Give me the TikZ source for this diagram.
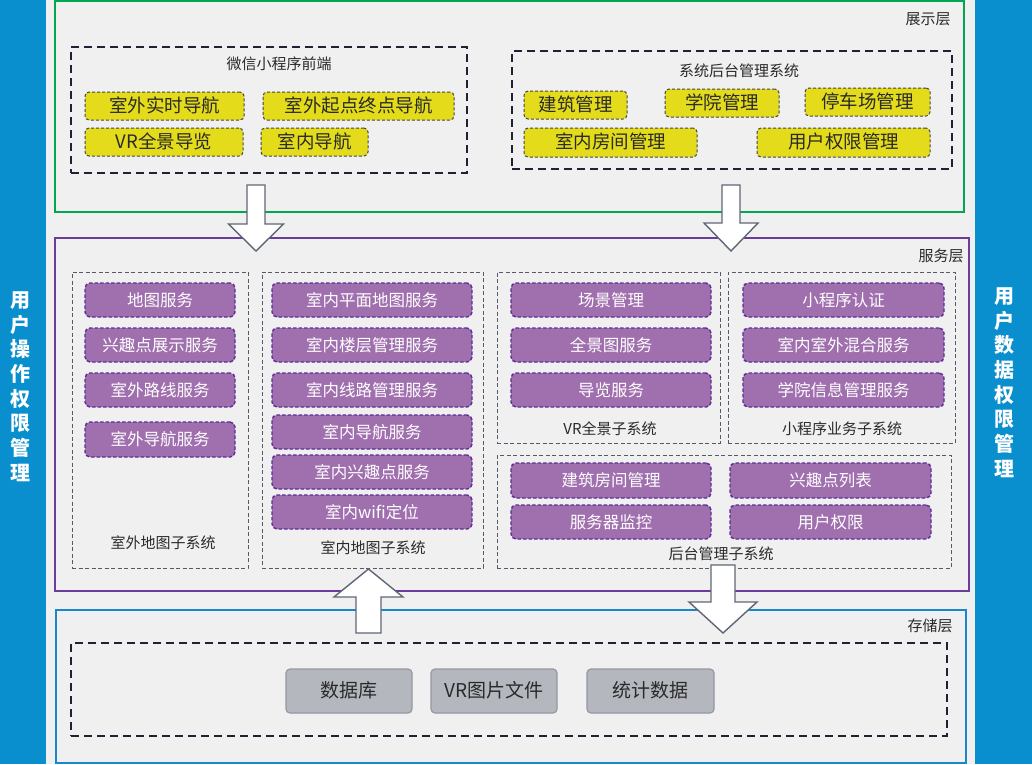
\documentclass[tikz,border=0pt]{standalone}
\usepackage{fontspec}
\setmainfont{Noto Sans CJK SC}
\usetikzlibrary{fit}
\definecolor{bg}{HTML}{F0F0F0}
\definecolor{sidebar}{HTML}{0A8FCE}
\definecolor{greenb}{HTML}{00A651}
\definecolor{purpb}{HTML}{6A3C9C}
\definecolor{blueb}{HTML}{1B87CB}
\definecolor{yellowf}{HTML}{E4DC1B}
\definecolor{purpf}{HTML}{A06FAE}
\definecolor{purpd}{HTML}{5B2D96}
\definecolor{grayf}{HTML}{B5B7BF}
\definecolor{grayd}{HTML}{9597A1}
\definecolor{navy}{HTML}{1E2235}
\definecolor{txt}{HTML}{2A2A2A}
\definecolor{arrowd}{HTML}{5F6675}
% box node from corner (x1,y1) to (x2,y2)
\newcommand\bx[6]{\node[#1, minimum width={#4pt-#2pt}, minimum height={#5pt-#3pt}] (#6) at ({(#2+#4)/2},{(#3+#5)/2})}
\begin{document}
\begin{tikzpicture}[x=1pt,y=-1pt,
  every node/.style={inner sep=0pt, outer sep=0pt},
  cjk/.style={text height=1.26em, text depth=0pt},
  ybox/.style={cjk, draw=navy!85, dash pattern=on 3pt off 2pt, line width=1pt, fill=yellowf, rounded corners=4pt, font=\fontsize{18.5}{20}\selectfont, text=txt},
  pbox/.style={cjk, draw=purpd, dash pattern=on 3.5pt off 2pt, line width=1.4pt, fill=purpf, rounded corners=5pt, text=white, font=\fontsize{16.5}{18}\selectfont},
  gbox/.style={cjk, draw=grayd, line width=1.2pt, fill=grayf, rounded corners=4pt, font=\fontsize{19}{20}\selectfont, text=txt},
  bigdash/.style={draw=navy, line width=2.4pt, dash pattern=on 8pt off 5pt},
  subbox/.style={draw=navy!75, line width=1pt, dash pattern=on 4pt off 2.5pt},
  titletext/.style={cjk, font=\fontsize{15}{16}\selectfont, text=txt},
  sidetext/.style={font=\fontsize{20}{24.7}\selectfont\bfseries, text=white, align=center},
  blockarrow/.style={draw=arrowd, line width=1.4pt, fill=white, line join=miter}
]
\useasboundingbox (0,0) rectangle (1032,764);
\fill[bg] (0,0) rectangle (1032,764);
% side bars
\node[fill=sidebar, fit={(0,0) (46,764)}] (leftbar) {};
\node[fill=sidebar, fit={(975,0) (1032,764)}] (rightbar) {};
\node[sidetext] (lefttxt) at (20,386.5) {用\\户\\操\\作\\权\\限\\管\\理};
\node[sidetext] (righttxt) at (1004,382.5) {用\\户\\数\\据\\权\\限\\管\\理};
% layers
\node[draw=greenb, line width=2.5pt, fit={(55,1) (964,212)}] (pres) {};
\node[draw=purpb, line width=2.5pt, fit={(55,238) (969,591)}] (serv) {};
\node[draw=blueb, line width=2pt, fit={(56,610) (966,763)}] (stor) {};
\node[titletext] (preslab) at (928,18) {展示层};
\node[titletext] (servlab) at (941,255) {服务层};
\node[titletext] (storlab) at (930,625) {存储层};
% presentation layer
\node[bigdash, fit={(71,47) (467,173)}] (fe) {};
\node[titletext] (fetitle) at (279,63) {微信小程序前端};
\bx{ybox}{85}{92}{244}{120}{y1} {室外实时导航};
\bx{ybox}{263}{92}{454}{120}{y2} {室外起点终点导航};
\bx{ybox}{85}{128}{243}{156}{y3} {VR全景导览};
\bx{ybox}{261}{128}{368}{156}{y4} {室内导航};
\node[bigdash, fit={(512,51) (952,169)}] (adm) {};
\node[titletext] (admtitle) at (739,70) {系统后台管理系统};
\bx{ybox}{524}{91}{627}{119}{b1} {建筑管理};
\bx{ybox}{665}{89}{779}{117}{b2} {学院管理};
\bx{ybox}{805}{88}{930}{116}{b3} {停车场管理};
\bx{ybox}{524}{128}{697}{157}{b4} {室内房间管理};
\bx{ybox}{757}{128}{930}{157}{b5} {用户权限管理};
% service layer subsystems
\node[subbox, fit={(72,272) (248,568)}] (outsub) {};
\node[titletext] (outtitle) at (163,542) {室外地图子系统};
\bx{pbox}{85}{283}{235}{317}{o1} {地图服务};
\bx{pbox}{85}{328}{235}{362}{o2} {兴趣点展示服务};
\bx{pbox}{85}{373}{235}{407}{o3} {室外路线服务};
\bx{pbox}{85}{422}{235}{457}{o4} {室外导航服务};
\node[subbox, fit={(262,272) (483,568)}] (insub) {};
\node[titletext] (intitle) at (373,547) {室内地图子系统};
\bx{pbox}{272}{283}{472}{317}{i1} {室内平面地图服务};
\bx{pbox}{272}{328}{472}{362}{i2} {室内楼层管理服务};
\bx{pbox}{272}{373}{472}{407}{i3} {室内线路管理服务};
\bx{pbox}{272}{415}{472}{449}{i4} {室内导航服务};
\bx{pbox}{272}{455}{472}{489}{i5} {室内兴趣点服务};
\bx{pbox}{272}{495}{472}{529}{i6} {室内wifi定位};
\node[subbox, fit={(497,272) (720,443)}] (vrsub) {};
\node[titletext] (vrtitle) at (610,428) {VR全景子系统};
\bx{pbox}{511}{283}{711}{317}{v1} {场景管理};
\bx{pbox}{511}{328}{711}{362}{v2} {全景图服务};
\bx{pbox}{511}{373}{711}{407}{v3} {导览服务};
\node[subbox, fit={(728,272) (955,443)}] (minisub) {};
\node[titletext] (minititle) at (842,428) {小程序业务子系统};
\bx{pbox}{743}{283}{944}{317}{m1} {小程序认证};
\bx{pbox}{743}{328}{944}{362}{m2} {室内室外混合服务};
\bx{pbox}{743}{373}{944}{407}{m3} {学院信息管理服务};
\node[subbox, fit={(497,455) (951,568)}] (bksub) {};
\node[titletext] (bktitle) at (721,553) {后台管理子系统};
\bx{pbox}{511}{463}{711}{498}{k1} {建筑房间管理};
\bx{pbox}{730}{463}{931}{498}{k2} {兴趣点列表};
\bx{pbox}{511}{505}{711}{539}{k3} {服务器监控};
\bx{pbox}{730}{505}{931}{539}{k4} {用户权限};
% storage layer
\node[bigdash, fit={(71,643) (947,736)}] (storin) {};
\bx{gbox}{286}{669}{412}{713}{s1} {数据库};
\bx{gbox}{431}{669}{557}{713}{s2} {VR图片文件};
\bx{gbox}{587}{669}{714}{713}{s3} {统计数据};
% block arrows
\draw[blockarrow] (247,185) -- (265,185) -- (265,224) -- (283.5,224) -- (256,251) -- (228.5,224) -- (247,224) -- cycle;
\draw[blockarrow] (722,185) -- (740,185) -- (740,223) -- (758,223) -- (731,251) -- (704,223) -- (722,223) -- cycle;
\draw[blockarrow] (356,633) -- (381,633) -- (381,597) -- (403,597) -- (368.5,569) -- (334,597) -- (356,597) -- cycle;
\draw[blockarrow] (711,565) -- (735,565) -- (735,602) -- (757,602) -- (723,633) -- (689,602) -- (711,602) -- cycle;
\end{tikzpicture}
\end{document}
